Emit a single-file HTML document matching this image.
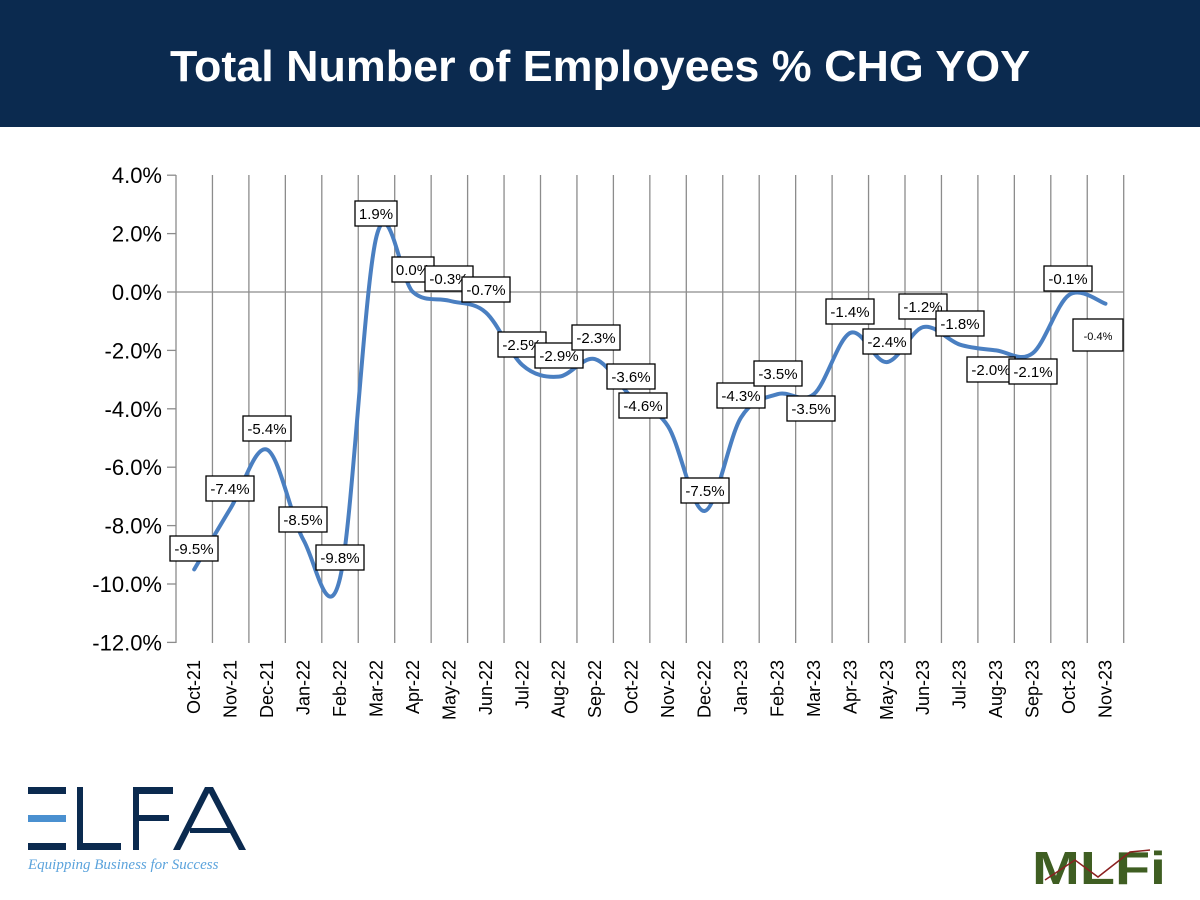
<!DOCTYPE html>
<html><head><meta charset="utf-8"><style>
body{margin:0;width:1200px;height:900px;background:#fff;overflow:hidden;font-family:"Liberation Sans",sans-serif}
</style></head><body>
<svg id="s" width="1200" height="900" xmlns="http://www.w3.org/2000/svg" style="position:absolute;left:0;top:0">
<rect x="0" y="0" width="1200" height="127" fill="#0b2a4f"/>
<text x="600" y="81" text-anchor="middle" font-family="Liberation Sans, sans-serif" font-weight="bold" font-size="44" fill="#fff" textLength="860" lengthAdjust="spacingAndGlyphs">Total Number of Employees % CHG YOY</text>
<g id="grid"></g>
<g id="curve"></g>
<g id="labels"></g>
<g fill="#0b2a4f">
<rect x="28" y="787" width="38" height="7"/>
<rect x="28" y="843" width="38" height="7"/>
<rect x="28" y="815" width="38" height="7" fill="#4a90d0"/>
<rect x="77" y="787" width="6" height="63"/>
<rect x="77" y="843" width="44" height="7"/>
<rect x="133" y="787" width="6" height="63"/>
<rect x="133" y="787" width="40" height="7"/>
<rect x="133" y="815" width="36" height="6"/>
<polygon points="205,787 213,787 246,850 239,850 209,793 180,850 173,850"/>
<rect x="190" y="828" width="40" height="5"/>
</g>
<text x="28" y="869" font-family="Liberation Serif, serif" font-style="italic" font-size="15" fill="#5ba3dc">Equipping Business for Success</text>
<text x="1032" y="884" font-family="Liberation Sans, sans-serif" font-weight="bold" font-size="46" fill="#3f5e22" textLength="134" lengthAdjust="spacingAndGlyphs">MLFi</text>
<polyline points="1045,880 1075,860 1098,877 1130,852 1150,850" fill="none" stroke="#8b2020" stroke-width="1.5"/>
</svg>
<script>
var NS="http://www.w3.org/2000/svg",s=document.getElementById('s');
function el(p,t,a,txt){var e=document.createElementNS(NS,t);for(var k in a)e.setAttribute(k,a[k]);if(txt!==undefined)e.textContent=txt;p.appendChild(e);return e;}
var x0=176,sw=36.45,n=26;
function Y(v){return 292-v*29.2;}
var g=document.getElementById('grid');
for(var i=1;i<=n;i++){var x=x0+i*sw;el(g,'line',{x1:x,y1:175,x2:x,y2:643,stroke:'#8c8c8c','stroke-width':1.3});}
el(g,'line',{x1:x0,y1:175,x2:x0,y2:643,stroke:'#8c8c8c','stroke-width':1.3});
el(g,'line',{x1:x0,y1:Y(0),x2:x0+n*sw,y2:Y(0),stroke:'#8c8c8c','stroke-width':1.3});
for(var v=4;v>=-12;v-=2){var y=Y(v);el(g,'line',{x1:x0-9,y1:y,x2:x0,y2:y,stroke:'#8c8c8c','stroke-width':1.3});
el(g,'text',{x:x0-14,y:y+8,'text-anchor':'end','font-size':22,fill:'#000'},v.toFixed(1)+'%');}
var months=['Oct-21','Nov-21','Dec-21','Jan-22','Feb-22','Mar-22','Apr-22','May-22','Jun-22','Jul-22','Aug-22','Sep-22','Oct-22','Nov-22','Dec-22','Jan-23','Feb-23','Mar-23','Apr-23','May-23','Jun-23','Jul-23','Aug-23','Sep-23','Oct-23','Nov-23'];
for(var i=0;i<n;i++){var x=x0+(i+.5)*sw+6;el(g,'text',{x:x,y:660,'text-anchor':'end','font-size':18,transform:'rotate(-90 '+x+' 660)',fill:'#000'},months[i]);}
var d=[-9.5,-7.4,-5.4,-8.5,-9.8,1.9,0.0,-0.3,-0.7,-2.5,-2.9,-2.3,-3.6,-4.6,-7.5,-4.3,-3.5,-3.5,-1.4,-2.4,-1.2,-1.8,-2.0,-2.1,-0.1,-0.4];
var P=d.map(function(v,i){return [x0+(i+.5)*sw,Y(v)];});
var path='M'+P[0][0]+','+P[0][1],t=1/6;
for(var i=0;i<n-1;i++){var p0=P[Math.max(i-1,0)],p1=P[i],p2=P[i+1],p3=P[Math.min(i+2,n-1)];
path+=' C'+(p1[0]+(p2[0]-p0[0])*t)+','+(p1[1]+(p2[1]-p0[1])*t)+' '+(p2[0]-(p3[0]-p1[0])*t)+','+(p2[1]-(p3[1]-p1[1])*t)+' '+p2[0]+','+p2[1];}
el(document.getElementById('curve'),'path',{d:path,fill:'none',stroke:'#4a7fc1','stroke-width':4,'stroke-linecap':'round'});
var L=[['-9.5%',170,536],['-7.4%',206,476],['-5.4%',243,416],['-8.5%',279,507],['-9.8%',316,545],['1.9%',355,201,42],['0.0%',392,257,42],['-0.3%',425,266],['-0.7%',462,277],['-2.5%',498,332],['-2.9%',535,343],['-2.3%',572,325],['-3.6%',607,364],['-4.6%',619,393],['-7.5%',681,478],['-4.3%',717,383],['-3.5%',754,361],['-3.5%',787,396],['-1.4%',826,299],['-2.4%',863,329],['-1.2%',899,294],['-1.8%',936,311],['-2.0%',967,357],['-2.1%',1009,359],['-0.1%',1044,266]];
var lg=document.getElementById('labels');
L.forEach(function(a){var w=a[3]||48;el(lg,'rect',{x:a[1],y:a[2],width:w,height:25,fill:'#fff',stroke:'#000','stroke-width':1.3});
el(lg,'text',{x:a[1]+w/2,y:a[2]+18,'text-anchor':'middle','font-size':15,fill:'#000'},a[0]);});
el(lg,'rect',{x:1073,y:319,width:50,height:32,fill:'#fff',stroke:'#000','stroke-width':1.3});
el(lg,'text',{x:1098,y:340,'text-anchor':'middle','font-size':11,fill:'#000'},'-0.4%');
</script>
</body></html>
